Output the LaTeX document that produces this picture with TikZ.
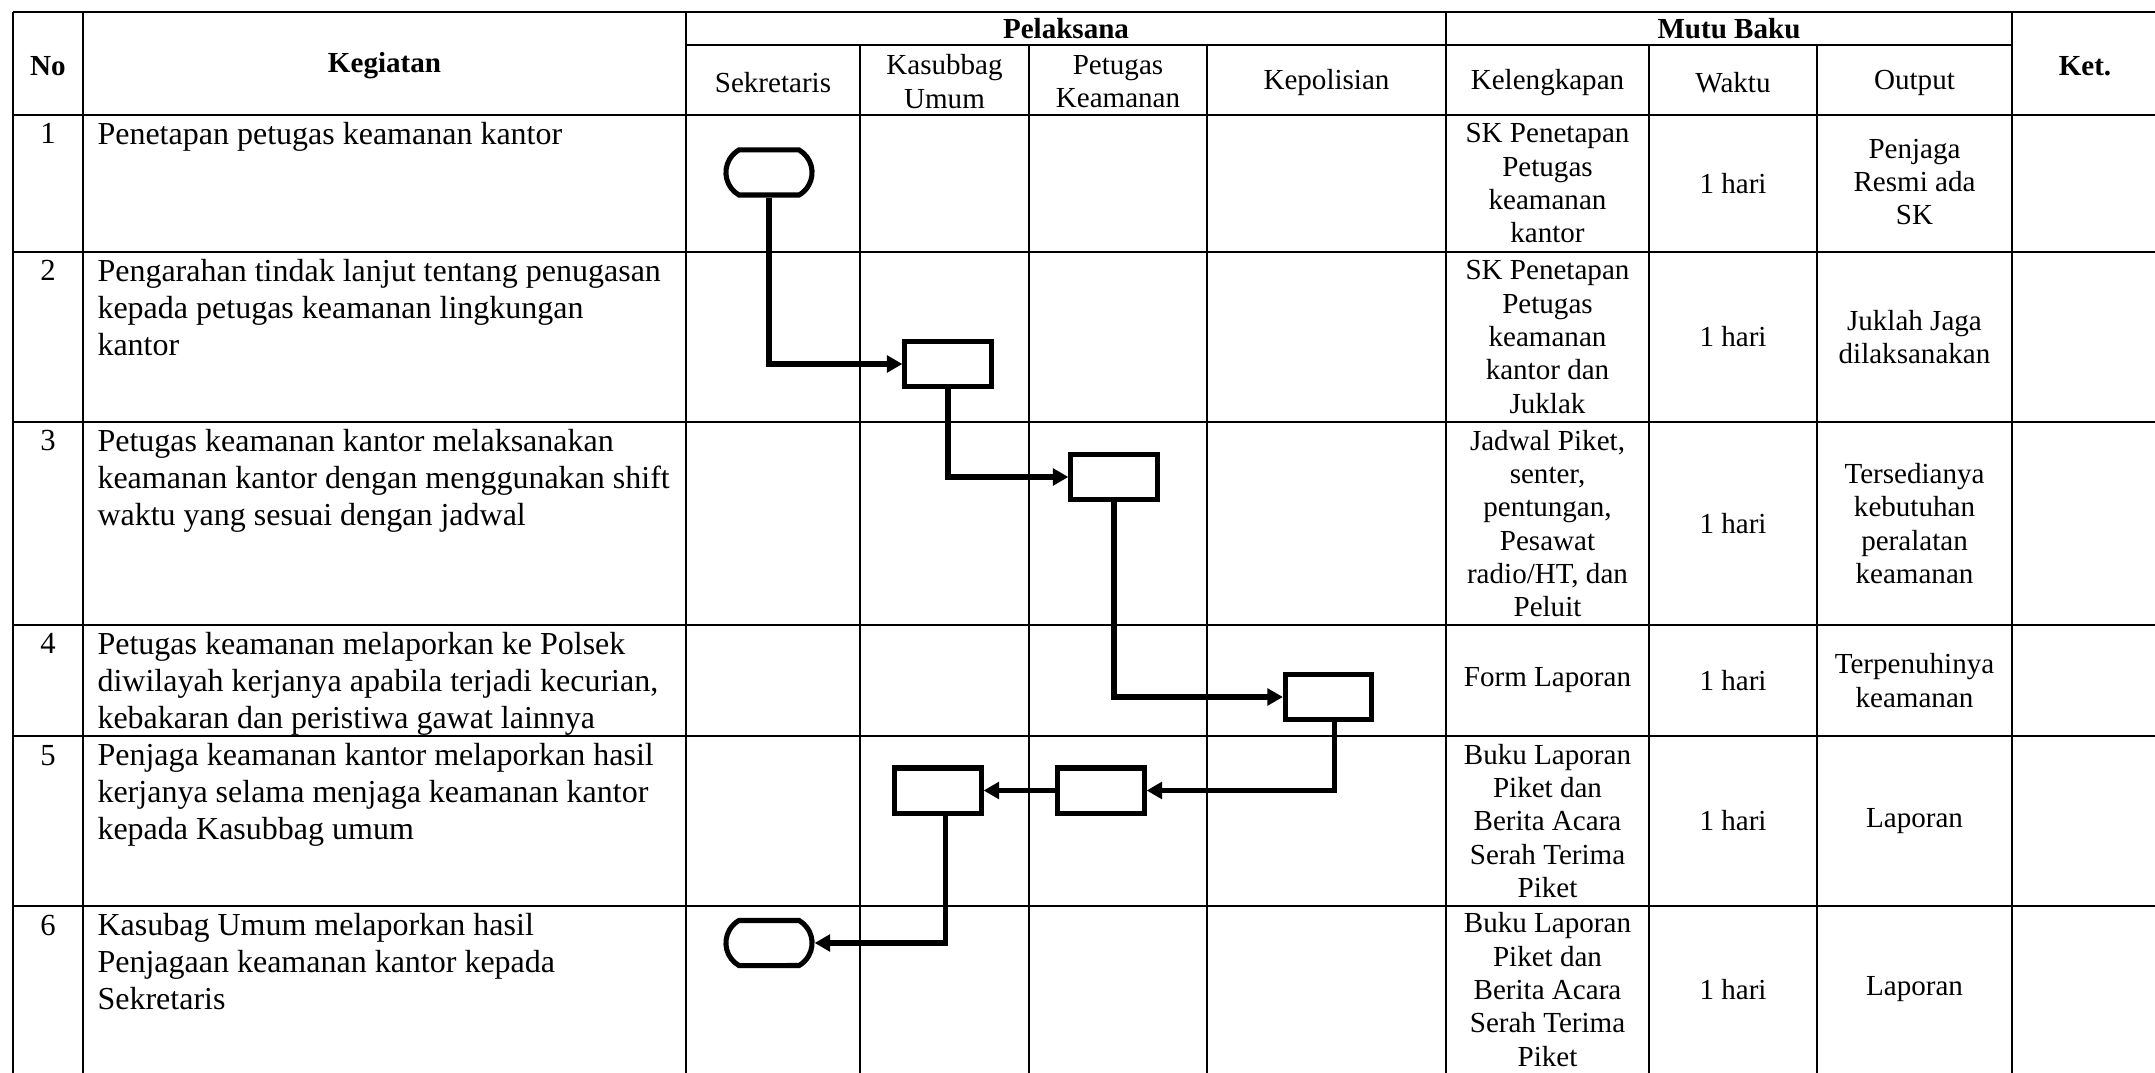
\documentclass[tikz,border=0pt]{standalone}
\usepackage{fontspec}
\setmainfont{Liberation Serif}
\usetikzlibrary{arrows.meta,shapes.misc}

\tikzset{
    garis/.style={line width=0.7pt},
    judul/.style={font=\fontsize{10.9}{12.5}\selectfont\bfseries, inner sep=0pt},
    isi/.style={font=\fontsize{10.9}{12.5}\selectfont, align=center, inner sep=0pt},
    uraian/.style={font=\fontsize{12}{13.8}\selectfont, align=left, anchor=north west, inner sep=0pt},
    nomor/.style={font=\fontsize{11.5}{13}\selectfont, anchor=base, inner sep=0pt},
    proses/.style={draw, line width=1.9pt, minimum width=32.3pt, minimum height=16.9pt, inner sep=0pt},
    terminal/.style={draw, rounded rectangle, rounded rectangle arc length=120, line width=1.9pt, minimum width=32.3pt, minimum height=16.9pt, inner sep=0pt},
    alur/.style={line width=1.9pt, -{Triangle[length=5.8pt,width=6.2pt]}}
}

\begin{document}
\begin{tikzpicture}[x=0.375pt,y=-0.375pt]
        \useasboundingbox (0,0) rectangle (2155,1073);

        \draw[garis] (13,12) -- (2155,12);
        \draw[garis] (686,45) -- (2012,45);
        \draw[garis] (13,115) -- (2155,115);
        \draw[garis] (13,252) -- (2155,252);
        \draw[garis] (13,422) -- (2155,422);
        \draw[garis] (13,625) -- (2155,625);
        \draw[garis] (13,736) -- (2155,736);
        \draw[garis] (13,906) -- (2155,906);

        \draw[garis] (13,12) -- (13,1073);
        \draw[garis] (83,12) -- (83,1073);
        \draw[garis] (686,12) -- (686,1073);
        \draw[garis] (860,45) -- (860,1073);
        \draw[garis] (1029,45) -- (1029,1073);
        \draw[garis] (1207,45) -- (1207,1073);
        \draw[garis] (1446,12) -- (1446,1073);
        \draw[garis] (1649,45) -- (1649,1073);
        \draw[garis] (1817,45) -- (1817,1073);
        \draw[garis] (2012,12) -- (2012,1073);

        \node[judul] (no) at (48,66) {No};
        \node[judul] (kegiatan) at (384.5,66) {Kegiatan};
        \node[judul] (pelaksana) at (1066,28.5) {Pelaksana};
        \node[judul] (mutubaku) at (1729,28.5) {Mutu Baku};
        \node[judul] (ket) at (2085,66) {Ket.};
        \node[isi] (sekretaris) at (773,83) {Sekretaris};
        \node[isi] (kasubbag) at (944.5,81.5) {Kasubbag\\Umum};
        \node[isi] (petugas) at (1118,81.5) {Petugas\\Keamanan};
        \node[isi] (kepolisian) at (1326.5,83) {Kepolisian};
        \node[isi] (kelengkapan) at (1547.5,83) {Kelengkapan};
        \node[isi] (waktu) at (1733,83) {Waktu};
        \node[isi] (output) at (1914.5,83) {Output};

        \node[nomor] (no1) at (48,144) {1};
        \node[nomor] (no2) at (48,281) {2};
        \node[nomor] (no3) at (48,451) {3};
        \node[nomor] (no4) at (48,654) {4};
        \node[nomor] (no5) at (48,765) {5};
        \node[nomor] (no6) at (48,935) {6};

        \node[uraian] (keg1) at (97,122) {Penetapan petugas keamanan kantor};
        \node[uraian] (keg2) at (97,259) {Pengarahan tindak lanjut tentang penugasan\\kepada petugas keamanan lingkungan\\kantor};
        \node[uraian] (keg3) at (97,429) {Petugas keamanan kantor melaksanakan\\keamanan kantor dengan menggunakan shift\\waktu yang sesuai dengan jadwal};
        \node[uraian] (keg4) at (97,632) {Petugas keamanan melaporkan ke Polsek\\diwilayah kerjanya apabila terjadi kecurian,\\kebakaran dan peristiwa gawat lainnya};
        \node[uraian] (keg5) at (97,743) {Penjaga keamanan kantor melaporkan hasil\\kerjanya selama menjaga keamanan kantor\\kepada Kasubbag umum};
        \node[uraian] (keg6) at (97,913) {Kasubag Umum melaporkan hasil\\Penjagaan keamanan kantor kepada\\Sekretaris};

        \node[isi] (lengkap1) at (1547.5,183.5) {SK Penetapan\\Petugas\\keamanan\\kantor};
        \node[isi] (lengkap2) at (1547.5,337) {SK Penetapan\\Petugas\\keamanan\\kantor dan\\Juklak};
        \node[isi] (lengkap3) at (1547.5,523.5) {Jadwal Piket,\\senter,\\pentungan,\\Pesawat\\radio/HT, dan\\Peluit};
        \node[isi] (lengkap4) at (1547.5,680.5) {Form Laporan};
        \node[isi] (lengkap5) at (1547.5,821) {Buku Laporan\\Piket dan\\Berita Acara\\Serah Terima\\Piket};
        \node[isi] (lengkap6) at (1547.5,989.5) {Buku Laporan\\Piket dan\\Berita Acara\\Serah Terima\\Piket};

        \node[isi] (waktu1) at (1733,183.5) {1 hari};
        \node[isi] (waktu2) at (1733,337) {1 hari};
        \node[isi] (waktu3) at (1733,523.5) {1 hari};
        \node[isi] (waktu4) at (1733,680.5) {1 hari};
        \node[isi] (waktu5) at (1733,821) {1 hari};
        \node[isi] (waktu6) at (1733,989.5) {1 hari};

        \node[isi] (output1) at (1914.5,182) {Penjaga\\Resmi ada\\SK};
        \node[isi] (output2) at (1914.5,337) {Juklah Jaga\\dilaksanakan};
        \node[isi] (output3) at (1914.5,523.5) {Tersedianya\\kebutuhan\\peralatan\\keamanan};
        \node[isi] (output4) at (1914.5,680.5) {Terpenuhinya\\keamanan};
        \node[isi] (output5) at (1914.5,821) {Laporan};
        \node[isi] (output6) at (1914.5,989.5) {Laporan};

        \node[terminal] (mulai) at (769,172.5) {};
        \node[proses] (arahan) at (948,364) {};
        \node[proses] (jaga) at (1114,477) {};
        \node[proses] (lapor) at (1328.5,697) {};
        \node[proses] (hasil) at (1101,790.5) {};
        \node[proses] (terima) at (938,790.5) {};
        \node[terminal] (selesai) at (769,943) {};

        \draw[alur] (mulai.south) |- (arahan.west);
        \draw[alur] (arahan.south) |- (jaga.west);
        \draw[alur] (jaga.south) |- (lapor.west);
        \draw[alur] ([xshift=2.4pt]lapor.south) |- (hasil.east);
        \draw[alur] (hasil.west) -- (terima.east);
        \draw[alur] ([xshift=2.8pt]terima.south) |- (selesai.east);

    \end{tikzpicture}
\end{document}
